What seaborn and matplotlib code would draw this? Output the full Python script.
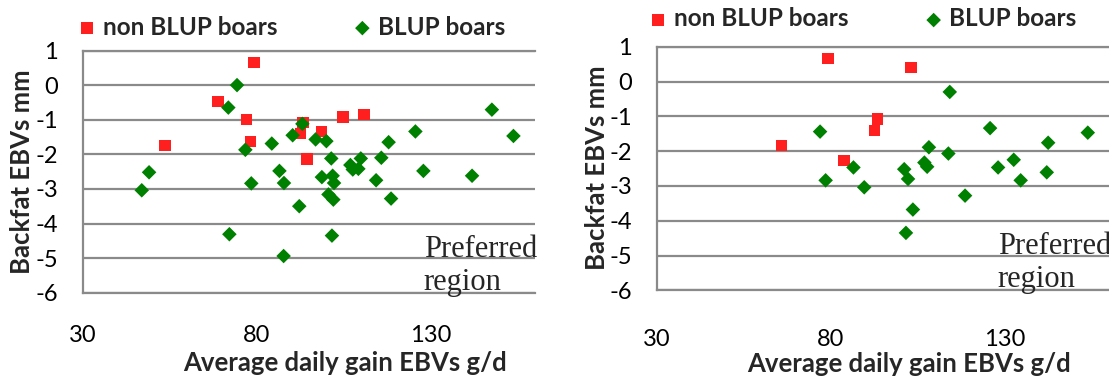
import matplotlib
matplotlib.use("Agg")
import matplotlib.pyplot as plt
import seaborn as sns

# left chart
left_non_x = [53.5, 68.8, 79.1, 77.0, 78.2, 93.2, 92.6, 94.5, 98.6, 104.7, 110.9]
left_non_y = [-1.75, -0.47, 0.65, -0.99, -1.63, -1.08, -1.40, -2.14, -1.34, -0.92, -0.85]
left_blup_x = [46.9, 49.0, 71.8, 74.3, 76.7, 78.4, 72.1, 84.3, 86.5, 87.8, 90.3, 92.2,
               87.7, 93.1, 96.9, 100.0, 101.4, 98.7, 101.8, 102.2, 100.6, 102.0, 101.6,
               106.9, 107.6, 109.2, 109.9, 114.3, 115.8, 117.9, 118.6, 125.6, 127.9,
               141.9, 147.6, 153.8]
left_blup_y = [-3.04, -2.52, -0.65, 0.0, -1.87, -2.84, -4.31, -1.69, -2.48, -2.83, -1.45, -3.50,
               -4.94, -1.12, -1.57, -1.62, -2.12, -2.66, -2.62, -2.83, -3.16, -3.31, -4.35,
               -2.31, -2.44, -2.42, -2.12, -2.75, -2.10, -1.65, -3.28, -1.34, -2.48,
               -2.62, -0.71, -1.47]

# right chart
right_non_x = [65.8, 79.2, 83.7, 92.6, 93.4, 103.0]
right_non_y = [-1.84, 0.66, -2.27, -1.41, -1.08, 0.40]
right_blup_x = [76.9, 78.5, 86.5, 89.6, 101.1, 102.2, 101.6, 103.6, 106.9, 107.7, 108.2,
                113.8, 114.2, 118.6, 125.8, 128.1, 132.6, 134.6, 142.1, 142.5, 153.9]
right_blup_y = [-1.44, -2.84, -2.47, -3.04, -2.52, -2.80, -4.35, -3.68, -2.33, -2.45, -1.89,
                -2.07, -0.30, -3.28, -1.34, -2.47, -2.25, -2.84, -2.61, -1.76, -1.47]

x_ticks = [30, 80, 130]
y_ticks = [-6, -5, -4, -3, -2, -1, 0, 1]

sns.set_theme(style="white")
plt.rcParams['font.family'] = ['Lato', 'DejaVu Sans']
plt.rcParams['axes.unicode_minus'] = False

GRID = "#8a8a8a"
RED = "#ff1f1f"
GREEN = "#008000"

W, H = 1109, 376
fig = plt.figure(figsize=(W / 100, H / 100), dpi=100)


def px_axes(x0, y0, x1, y1):
    # pixel box (top-left origin) -> figure fraction
    return fig.add_axes([x0 / W, 1 - y1 / H, (x1 - x0) / W, (y1 - y0) / H])


def draw_panel(ax, non_x, non_y, blup_x, blup_y, xpad, leg_y, leg_x):
    sns.scatterplot(x=non_x, y=non_y, ax=ax, color=RED, marker="s", s=70,
                    edgecolor="none", label="non BLUP boars", zorder=3)
    sns.scatterplot(x=blup_x, y=blup_y, ax=ax, color=GREEN, marker="D", s=55,
                    edgecolor="none", label="BLUP boars", zorder=4)
    ax.set_xlim(30, 160)
    ax.set_ylim(-6, 1)
    ax.set_xticks(x_ticks)
    ax.set_yticks(y_ticks)
    ax.set_xlabel("")
    ax.set_ylabel("")
    ax.grid(axis="y", color=GRID, linewidth=1.6)
    ax.grid(axis="x", visible=False)
    for side in ["top", "bottom", "left"]:
        ax.spines[side].set_color(GRID)
        ax.spines[side].set_linewidth(1.6)
    ax.spines["right"].set_visible(False)
    ax.tick_params(axis="y", length=0, pad=18, labelsize=17, colors="black")
    ax.tick_params(axis="x", length=0, pad=xpad, labelsize=17, colors="black")
    ax.text(128, -5.22, "Preferred\nregion", family="Liberation Serif", fontsize=22,
            ha="left", va="center", linespacing=1.2, clip_on=False, zorder=5)
    ax.legend(loc="center left", bbox_to_anchor=(leg_x, leg_y), ncol=2, frameon=False,
              handlelength=0.7, handletextpad=0.3, columnspacing=3.15,
              borderaxespad=0, borderpad=0,
              prop={"family": "Lato", "weight": "bold", "size": 17.5})


ax1 = px_axes(83, 50.5, 535, 292.7)
draw_panel(ax1, left_non_x, left_non_y, left_blup_x, left_blup_y, 23, 1.097, -0.010)
ax2 = px_axes(657, 46.7, 1109, 290.3)
draw_panel(ax2, right_non_x, right_non_y, right_blup_x, right_blup_y, 28, 1.114, -0.016)

lab = dict(fontsize=18.5, fontweight="bold", ha="center", va="center")
fig.text(22 / W, 1 - 172 / H, "Backfat EBVs mm", rotation=90, **lab)
fig.text(597 / W, 1 - 168 / H, "Backfat EBVs mm", rotation=90, **lab)
fig.text(345 / W, 1 - 363 / H, "Average daily gain EBVs g/d", **lab)
fig.text(909 / W, 1 - 364 / H, "Average daily gain EBVs g/d", **lab)

fig.savefig("out.png", dpi=100)
